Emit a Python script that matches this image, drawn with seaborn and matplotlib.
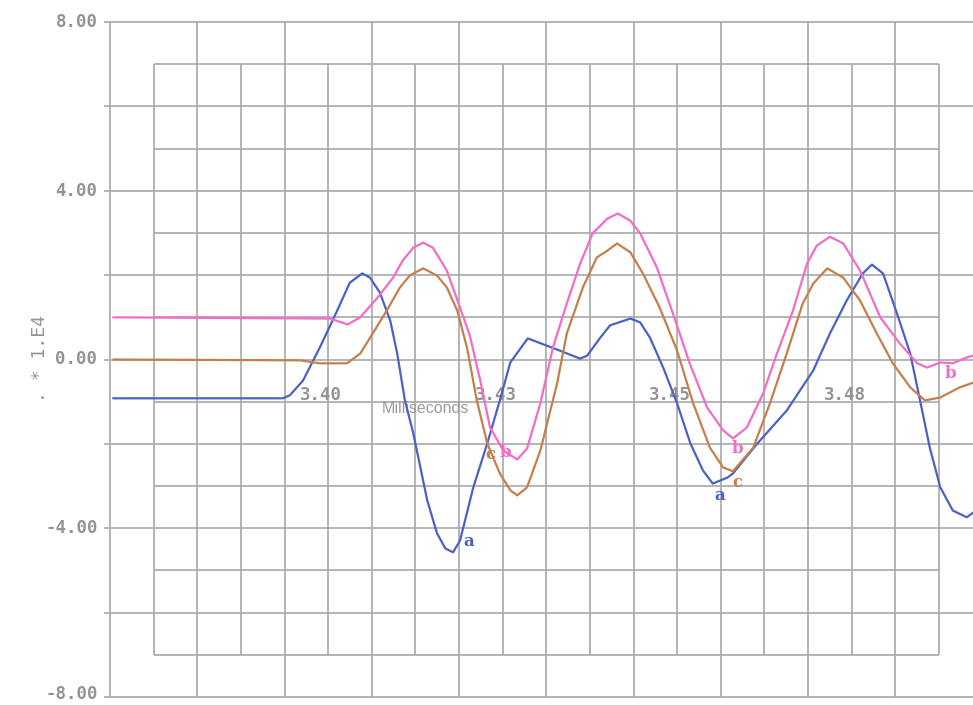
import numpy as np
import pandas as pd
import matplotlib
matplotlib.use("Agg")
import matplotlib.pyplot as plt
import matplotlib.transforms as mtransforms
import seaborn as sns

# ---------------- data (time in ms, value in units of 1e4) ----------------
t_a = [3.3692, 3.3935, 3.3945, 3.3964, 3.3988, 3.4013, 3.4031, 3.4049, 3.4060, 3.4074,
       3.4089, 3.4099, 3.4110, 3.4122, 3.4142, 3.4156, 3.4168, 3.4179, 3.4189, 3.4208,
       3.4228, 3.4246, 3.4261, 3.4268, 3.4286, 3.4332, 3.4361, 3.4371, 3.4390, 3.4404,
       3.4433, 3.4447, 3.4461, 3.4480, 3.4500, 3.4519, 3.4537, 3.4551, 3.4572, 3.4580,
       3.4615, 3.4657, 3.4695, 3.4719, 3.4743, 3.4766, 3.4779, 3.4795, 3.4815, 3.4834,
       3.4848, 3.4862, 3.4877, 3.4895, 3.4915, 3.4924]
v_a = [-0.92, -0.92, -0.85, -0.50, 0.28, 1.16, 1.82, 2.04, 1.94, 1.59,
       0.92, 0.14, -0.97, -1.75, -3.34, -4.12, -4.48, -4.57, -4.29, -3.03,
       -1.99, -0.97, -0.07, 0.09, 0.50, 0.21, 0.02, 0.09, 0.52, 0.81,
       0.97, 0.88, 0.52, -0.19, -1.04, -1.99, -2.63, -2.94, -2.80, -2.70,
       -1.99, -1.21, -0.26, 0.62, 1.40, 2.04, 2.25, 2.04, 1.09, 0.14,
       -0.97, -2.09, -3.03, -3.58, -3.74, -3.63]

t_b = [3.3692, 3.4003, 3.4028, 3.4046, 3.4070, 3.4093, 3.4107, 3.4122, 3.4136, 3.4150,
       3.4170, 3.4189, 3.4203, 3.4218, 3.4232, 3.4251, 3.4271, 3.4285, 3.4304, 3.4322,
       3.4342, 3.4361, 3.4379, 3.4400, 3.4415, 3.4433, 3.4447, 3.4471, 3.4494, 3.4518,
       3.4543, 3.4566, 3.4580, 3.4600, 3.4623, 3.4643, 3.4666, 3.4686, 3.4700, 3.4719,
       3.4738, 3.4762, 3.4791, 3.4819, 3.4844, 3.4858, 3.4877, 3.4895, 3.4915, 3.4924]
v_b = [1.00, 0.97, 0.83, 1.00, 1.45, 1.94, 2.35, 2.65, 2.77, 2.65,
       2.11, 1.23, 0.57, -0.50, -1.61, -2.16, -2.37, -2.11, -1.04, 0.28,
       1.33, 2.27, 2.99, 3.34, 3.46, 3.29, 2.99, 2.18, 1.09, -0.09,
       -1.14, -1.68, -1.87, -1.61, -0.81, 0.14, 1.16, 2.27, 2.70, 2.91,
       2.75, 2.11, 1.00, 0.38, -0.09, -0.19, -0.07, -0.09, 0.05, 0.09]

t_c = [3.3692, 3.3960, 3.3988, 3.4027, 3.4046, 3.4064, 3.4084, 3.4103, 3.4117, 3.4136,
       3.4156, 3.4170, 3.4185, 3.4199, 3.4213, 3.4228, 3.4246, 3.4261, 3.4271, 3.4285,
       3.4304, 3.4328, 3.4342, 3.4365, 3.4385, 3.4400, 3.4414, 3.4433, 3.4451, 3.4475,
       3.4500, 3.4523, 3.4547, 3.4566, 3.4580, 3.4609, 3.4633, 3.4657, 3.4680, 3.4695,
       3.4715, 3.4738, 3.4762, 3.4786, 3.4809, 3.4834, 3.4855, 3.4877, 3.4905, 3.4924]
v_c = [0.00, -0.02, -0.09, -0.09, 0.14, 0.62, 1.16, 1.71, 1.99, 2.16,
       1.99, 1.71, 1.16, 0.28, -0.97, -1.99, -2.70, -3.10, -3.22, -3.03,
       -2.16, -0.57, 0.62, 1.71, 2.42, 2.58, 2.75, 2.54, 2.04, 1.23,
       0.21, -1.04, -2.09, -2.56, -2.65, -2.09, -1.04, 0.14, 1.33, 1.80,
       2.16, 1.94, 1.40, 0.62, -0.09, -0.66, -0.97, -0.90, -0.66, -0.55]

series_names = ["a", "b", "c"]
series_colors = {"a": "#4a62c6", "b": "#f26cc8", "c": "#c4804c"}

# curve letter labels (name, t, value)
label_names = ["a", "a", "c", "b", "b", "c", "b"]
label_t = [3.4202, 3.4561, 3.4233, 3.4254, 3.4586, 3.4586, 3.4891]
label_v = [-4.31, -3.22, -2.25, -2.20, -2.11, -2.91, -0.33]

x_tick_vals = [3.400, 3.425, 3.450, 3.475]
x_tick_labels = ["3.40", "3.43", "3.45", "3.48"]
y_tick_vals = [8, 4, 0, -4, -8]
y_tick_labels = ["8.00", "4.00", "0.00", "-4.00", "-8.00"]

# ---------------- figure ----------------
sns.set_style("white")
plt.rcParams["font.family"] = ["DejaVu Sans"]

W, H = 973, 705
fig = plt.figure(figsize=(W / 100, H / 100), dpi=100)
ax = fig.add_axes([110 / W, (H - 697) / H, (W - 110) / W, 675 / H])

x0 = 3.36875
step = 0.0125
x_right = x0 + 863 / 6980.0
ax.set_xlim(x0, x_right)
ax.set_ylim(-8, 8)

grid_col = "#a8a8aa"
lw_grid = 1.2
# major grid
major_x = np.arange(x0, x_right + 1e-9, step)
ax.vlines(major_x, -8, 8, colors=grid_col, lw=lw_grid, zorder=1, clip_on=False)
ax.hlines(np.arange(-8, 9, 2), x0, x_right, colors=grid_col, lw=lw_grid, zorder=1, clip_on=False)
# inner grid (offset by half a cell)
inner_x = np.arange(x0 + step / 2, x0 + step / 2 + 9 * step + 1e-9, step)
ax.vlines(inner_x, -7, 7, colors=grid_col, lw=lw_grid, zorder=1)
ax.hlines(np.arange(-7, 8, 2), inner_x[0], inner_x[-1], colors=grid_col, lw=lw_grid, zorder=1)

# curves
df = pd.concat([
    pd.DataFrame({"t": t_a, "v": v_a, "s": "a"}),
    pd.DataFrame({"t": t_b, "v": v_b, "s": "b"}),
    pd.DataFrame({"t": t_c, "v": v_c, "s": "c"}),
], ignore_index=True)
sns.lineplot(data=df, x="t", y="v", hue="s", hue_order=series_names,
             palette=series_colors, estimator=None, sort=False, lw=1.6,
             legend=False, ax=ax, zorder=3)

for name, tt, vv in zip(label_names, label_t, label_v):
    ax.text(tt, vv, name, color=series_colors[name], fontsize=12, fontweight="bold",
            family="DejaVu Serif", ha="center", va="center", zorder=4)

mono = "DejaVu Sans Mono"
tick_col = "#939395"
for val, lab in zip(x_tick_vals, x_tick_labels):
    ax.text(val - 0.001, -0.83, lab, fontsize=12.5, family=mono, fontweight="bold",
            color=tick_col, ha="center", va="center", zorder=2)
ax.text(3.41388, -1.16, "Milliseconds", fontsize=11.5, family="Liberation Sans",
        color="#9c9c9c", ha="center", va="center", zorder=2)

# y axis ticks
ax.set_yticks(np.arange(-8, 9, 2))
ax.set_yticklabels([y_tick_labels[y_tick_vals.index(v)] if v in y_tick_vals else ""
                    for v in np.arange(-8, 9, 2)])
ax.tick_params(axis="y", length=4, width=lw_grid, color=grid_col, pad=5,
               labelsize=12.5, labelcolor=tick_col, left=True)
for lab in ax.get_yticklabels():
    lab.set_family(mono)
    lab.set_fontweight("bold")
    lab.set_verticalalignment("center")
ax.set_xticks([])
ax.set_xlabel("")
ax.set_ylabel("")
for sp in ax.spines.values():
    sp.set_visible(False)

fig.text(40 / W, 1 - 359 / H, ". * 1.E4", rotation=90, fontsize=13, family=mono,
         color=tick_col, ha="center", va="center")

fig.canvas.draw()
# keep the bottom tick label inside the picture
last = ax.get_yticklabels()[0]
last.set_transform(last.get_transform() +
                   mtransforms.ScaledTranslation(0, 2 / 72, fig.dpi_scale_trans))

fig.savefig("out.png", dpi=100, facecolor="white")
